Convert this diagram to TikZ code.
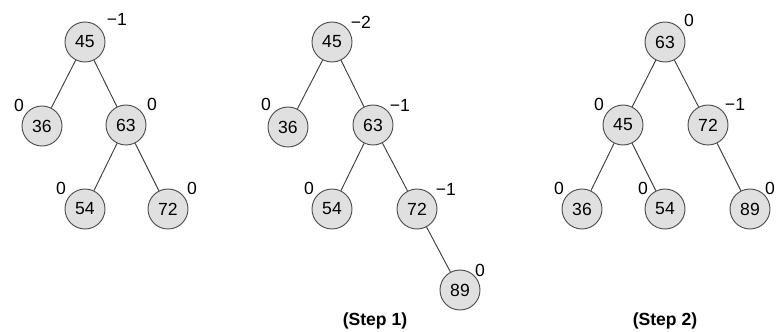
\documentclass[tikz,border=0pt]{standalone}
\usepackage{fontspec}
\setmainfont{Liberation Sans}
\begin{document}
\begin{tikzpicture}[
  x=0.03cm, y=-0.03cm,
  key/.style={circle, draw=black!70, fill=black!12, line width=0.8pt, minimum size=1.2cm, inner sep=0pt, font=\fontsize{15}{17}\selectfont},
  bal/.style={font=\fontsize{15}{17}\selectfont, inner sep=0pt},
  edge/.style={black!75, line width=0.8pt}
]
\useasboundingbox (0,0) rectangle (776,331);
% before insertion
\node[key] (a45) at (85,42) {45};
\node[key] (a36) at (42,126) {36};
\node[key] (a63) at (126,125) {63};
\node[key] (a54) at (85,209) {54};
\node[key] (a72) at (168,209) {72};
\draw[edge] (a45) -- (a36);
\draw[edge] (a45) -- (a63);
\draw[edge] (a63) -- (a54);
\draw[edge] (a63) -- (a72);
\node[bal] (ba45) at (117,19) {−1};
\node[bal] (ba36) at (19,105) {0};
\node[bal] (ba63) at (152,104) {0};
\node[bal] (ba54) at (61,188) {0};
\node[bal] (ba72) at (192,188) {0};
% step 1
\node[key] (b45) at (332,42) {45};
\node[key] (b36) at (288,127) {36};
\node[key] (b63) at (373,125) {63};
\node[key] (b54) at (332,209) {54};
\node[key] (b72) at (417,209) {72};
\node[key] (b89) at (460,290) {89};
\draw[edge] (b45) -- (b36);
\draw[edge] (b45) -- (b63);
\draw[edge] (b63) -- (b54);
\draw[edge] (b63) -- (b72);
\draw[edge] (b72) -- (b89);
\node[bal] (bb45) at (361,22) {−2};
\node[bal] (bb36) at (266,104) {0};
\node[bal] (bb63) at (400,105) {−1};
\node[bal] (bb54) at (309,188) {0};
\node[bal] (bb72) at (446,189) {−1};
\node[bal] (bb89) at (480,270) {0};
\node[bal, font=\fontsize{15}{17}\selectfont\bfseries] (step1) at (375,321) {(Step 1)};
% step 2
\node[key] (c63) at (665,42) {63};
\node[key] (c45) at (623,125) {45};
\node[key] (c72) at (708,125) {72};
\node[key] (c36) at (582,209) {36};
\node[key] (c54) at (665,209) {54};
\node[key] (c89) at (750,209) {89};
\draw[edge] (c63) -- (c45);
\draw[edge] (c63) -- (c72);
\draw[edge] (c45) -- (c36);
\draw[edge] (c45) -- (c54);
\draw[edge] (c72) -- (c89);
\node[bal] (bc63) at (689,20) {0};
\node[bal] (bc45) at (599,104) {0};
\node[bal] (bc72) at (735,104) {−1};
\node[bal] (bc36) at (559,188) {0};
\node[bal] (bc54) at (643,188) {0};
\node[bal] (bc89) at (770,188) {0};
\node[bal, font=\fontsize{15}{17}\selectfont\bfseries] (step2) at (665,321) {(Step 2)};
\end{tikzpicture}
\end{document}
